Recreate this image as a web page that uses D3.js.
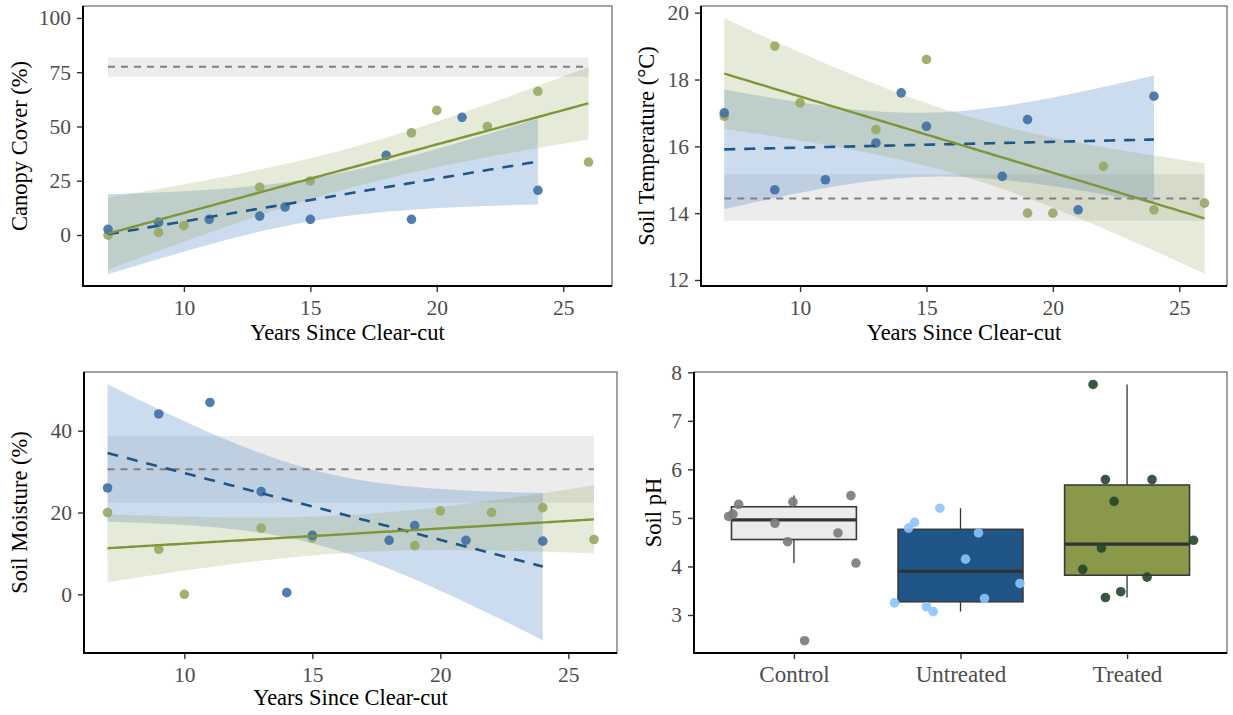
<!DOCTYPE html>
<html>
<head>
<meta charset="utf-8">
<script src="https://cdn.jsdelivr.net/npm/d3@7"></script>
<style>
  html, body { margin: 0; padding: 0; background: #ffffff; }
  svg { display: block; }
  text { font-family: "Liberation Serif", "DejaVu Serif", serif; }
</style>
</head>
<body>
<svg id="chart" width="1233" height="715"></svg>
<script>
// ---------------- DATA ----------------
const xTitle = "Years Since Clear-cut";
const xTickValues = [10, 15, 20, 25];

const untreatedYears = [7, 9, 11, 13, 14, 15, 18, 19, 21, 24];
const treatedYears   = [7, 9, 10, 13, 15, 19, 20, 22, 24, 26];

const canopyUntreated = [2.6, 5.8, 7.2, 8.7, 12.9, 7.2, 36.7, 7.2, 54.2, 20.6];
const canopyTreated   = [-0.1, 1.2, 4.3, 22.0, 24.9, 47.1, 57.4, 50.0, 66.2, 33.6];

const tempUntreated = [17.0, 14.7, 15.0, 16.1, 17.6, 16.6, 15.1, 16.8, 14.1, 17.5];
const tempTreated   = [16.9, 19.0, 17.3, 16.5, 18.6, 14.0, 14.0, 15.4, 14.1, 14.3];

const moistUntreated = [26.0, 44.1, 46.9, 25.1, 0.4, 14.4, 13.2, 16.8, 13.2, 13.0];
const moistTreated   = [20.0, 11.0, 0.0, 16.2, 13.8, 11.9, 20.4, 20.0, 21.2, 13.4];

// control reference (mean and 95% CI) for canopy, temperature, moisture
const controlMean = [77.5, 14.44, 30.56];
const controlLow  = [72.9, 13.77, 22.4];
const controlHigh = [81.8, 15.16, 38.7];

const yTitles = ["Canopy Cover (%)", "Soil Temperature (°C)", "Soil Moisture (%)", "Soil pH"];
const canopyTicks = [0, 25, 50, 75, 100];
const tempTicks = [12, 14, 16, 18, 20];
const moistTicks = [0, 20, 40];
const phTicks = [3, 4, 5, 6, 7, 8];

const phGroups = ["Control", "Untreated", "Treated"];
const phControl   = [5.03, 5.08, 5.28, 4.89, 4.51, 5.33, 2.47, 4.69, 5.46, 4.07];
const phUntreated = [3.25, 4.79, 4.91, 3.17, 3.07, 5.20, 4.15, 4.69, 3.34, 3.65];
const phTreated   = [7.75, 5.79, 5.79, 5.34, 4.54, 4.38, 3.94, 3.78, 3.48, 3.36];
// horizontal jitter of the points, in category-step units
const phControlJitter   = [-0.392, -0.366, -0.332, -0.114, -0.038, -0.006, 0.064, 0.264, 0.342, 0.372];
const phUntreatedJitter = [-0.396, -0.312, -0.276, -0.204, -0.164, -0.124, 0.030, 0.108, 0.144, 0.357];
const phTreatedJitter   = [-0.204, -0.130, 0.150, -0.078, 0.399, -0.154, -0.266, 0.120, -0.038, -0.130];

// ---------------- STYLE ----------------
const COL = {
  untrPoint: "#3F6FA6", trPoint: "#97A864",
  untrLine: "#1F5587", trLine: "#7F9638",
  untrRibbon: "rgb(100,150,205)", trRibbon: "rgb(130,150,60)",
  ctrlRibbon: "#d9d9d9", ctrlLine: "#808080",
  boxFill: ["#EBEBEB", "#1F5587", "#8A984A"],
  boxPts: ["#7a7a7a", "#8CC4FA", "#24452a"]
};
const FONT_TICK = 21.5, FONT_CAT = 23, FONT_TITLE = 22.5, PT_R = 4.8;

const svg = d3.select("#chart");

// t critical values (0.975) by df
const tTable = {1:12.706,2:4.303,3:3.182,4:2.776,5:2.571,6:2.447,7:2.365,8:2.306,9:2.262,10:2.228,11:2.201,12:2.179,13:2.160,14:2.145,15:2.131,16:2.120,17:2.110,18:2.101,19:2.093,20:2.086};

function lmFit(xs, ys) {
  const n = xs.length;
  const mx = d3.mean(xs), my = d3.mean(ys);
  let sxx = 0, sxy = 0;
  for (let i = 0; i < n; i++) { sxx += (xs[i]-mx)**2; sxy += (xs[i]-mx)*(ys[i]-my); }
  const b = sxy / sxx, a = my - b*mx;
  let sse = 0;
  for (let i = 0; i < n; i++) sse += (ys[i] - (a + b*xs[i]))**2;
  const s = Math.sqrt(sse / (n - 2));
  const t = tTable[n - 2] || 1.96;
  const x0 = d3.min(xs), x1 = d3.max(xs);
  return d3.range(80).map(i => {
    const x = x0 + (x1 - x0) * i / 79;
    const yh = a + b*x;
    const se = s * Math.sqrt(1/n + (x-mx)**2 / sxx);
    return {x, y: yh, lo: yh - t*se, hi: yh + t*se};
  });
}

function styleAxis(g, fs) {
  g.select(".domain").remove();
  g.selectAll(".tick line").attr("stroke", "#333").attr("stroke-width", 1.4);
  g.selectAll(".tick text").attr("fill", "#4d4d4d").attr("font-size", fs)
    .attr("font-family", "Liberation Serif, serif");
}

function frame(p) {
  const g = svg.append("g");
  g.append("rect").attr("x", p.x0).attr("y", p.y0).attr("width", p.x1 - p.x0).attr("height", p.y1 - p.y0)
    .attr("fill", "none").attr("stroke", "#444").attr("stroke-width", 1);
  return g;
}

function axesAndTitles(p, x, y, yTicks, yTitle, isBand) {
  const gy = svg.append("g").attr("transform", `translate(${p.x0},0)`)
    .call(d3.axisLeft(y).tickValues(yTicks).tickFormat(d3.format("d")).tickSize(6).tickPadding(6));
  styleAxis(gy, FONT_TICK);
  const ax = isBand ? d3.axisBottom(x).tickPadding(6.5)
                    : d3.axisBottom(x).tickValues(xTickValues).tickFormat(d3.format("d")).tickPadding(7.7);
  const gx = svg.append("g").attr("transform", `translate(0,${p.y1})`)
    .call(ax.tickSize(6));
  styleAxis(gx, isBand ? FONT_CAT : FONT_TICK);
  svg.append("line").attr("x1", p.x0).attr("x2", p.x0).attr("y1", p.y0).attr("y2", p.y1 + 1)
    .attr("stroke", "#000").attr("stroke-width", 2);
  svg.append("line").attr("x1", p.x0 - 1).attr("x2", p.x1).attr("y1", p.y1).attr("y2", p.y1)
    .attr("stroke", "#000").attr("stroke-width", 2);
  svg.append("text").attr("transform", `translate(${p.ytx},${(p.y0 + p.y1) / 2}) rotate(-90)`)
    .attr("text-anchor", "middle").attr("font-size", FONT_TITLE).attr("fill", "#000").text(yTitle);
  if (p.xtitleY) {
    svg.append("text").attr("x", (p.x0 + p.x1) / 2).attr("y", p.xtitleY)
      .attr("text-anchor", "middle").attr("font-size", FONT_TITLE).attr("fill", "#000").text(xTitle);
  }
}

function scatterPanel(p, untr, tr, ci, yTicks, yTitle) {
  const x = d3.scaleLinear().domain(p.xd).range([p.x0, p.x1]);
  const y = d3.scaleLinear().domain(p.yd).range([p.y1, p.y0]);
  const g = frame(p);
  const allYears = untreatedYears.concat(treatedYears);
  const cx0 = d3.min(allYears), cx1 = d3.max(allYears);
  g.append("rect").attr("x", x(cx0)).attr("width", x(cx1) - x(cx0))
    .attr("y", y(controlHigh[ci])).attr("height", y(controlLow[ci]) - y(controlHigh[ci]))
    .attr("fill", COL.ctrlRibbon).attr("fill-opacity", 0.5);
  const fU = lmFit(untreatedYears, untr);
  const fT = lmFit(treatedYears, tr);
  const area = d3.area().x(d => x(d.x)).y0(d => y(d.lo)).y1(d => y(d.hi));
  const line = d3.line().x(d => x(d.x)).y(d => y(d.y));
  g.append("path").attr("d", area(fU)).attr("fill", COL.untrRibbon).attr("fill-opacity", 0.33);
  g.append("path").attr("d", area(fT)).attr("fill", COL.trRibbon).attr("fill-opacity", 0.2);
  g.append("line").attr("x1", x(cx0)).attr("x2", x(cx1)).attr("y1", y(controlMean[ci])).attr("y2", y(controlMean[ci]))
    .attr("stroke", COL.ctrlLine).attr("stroke-width", 2).attr("stroke-dasharray", "7,6");
  g.selectAll(".pt").data(treatedYears.map((v, i) => [v, tr[i]])).enter().append("circle")
    .attr("cx", d => x(d[0])).attr("cy", d => y(d[1])).attr("r", PT_R)
    .attr("fill", COL.trPoint).attr("fill-opacity", 0.9);
  g.selectAll(".pu").data(untreatedYears.map((v, i) => [v, untr[i]])).enter().append("circle")
    .attr("cx", d => x(d[0])).attr("cy", d => y(d[1])).attr("r", PT_R)
    .attr("fill", COL.untrPoint).attr("fill-opacity", 0.9);
  g.append("path").attr("d", line(fU)).attr("fill", "none").attr("stroke", COL.untrLine)
    .attr("stroke-width", 2.6).attr("stroke-dasharray", "11,9");
  g.append("path").attr("d", line(fT)).attr("fill", "none").attr("stroke", COL.trLine)
    .attr("stroke-width", 2.4);
  axesAndTitles(p, x, y, yTicks, yTitle, false);
}

scatterPanel({x0: 83, x1: 612, y0: 6, y1: 286, xd: [6.01, 26.93], yd: [-23.5, 105.5], ytx: 27, xtitleY: 340},
  canopyUntreated, canopyTreated, 0, canopyTicks, yTitles[0]);
scatterPanel({x0: 701, x1: 1227, y0: 6, y1: 286, xd: [6.08, 26.89], yd: [11.82, 20.2], ytx: 654, xtitleY: 340},
  tempUntreated, tempTreated, 1, tempTicks, yTitles[1]);
scatterPanel({x0: 84, x1: 617, y0: 372, y1: 653, xd: [6.08, 26.9], yd: [-14.35, 54.35], ytx: 27, xtitleY: 705},
  moistUntreated, moistTreated, 2, moistTicks, yTitles[2]);

// ---------------- BOX PANEL ----------------
(function () {
  const p = {x0: 694, x1: 1227, y0: 372, y1: 653, ytx: 661};
  const x = d3.scalePoint().domain(phGroups).range([p.x0, p.x1]).padding(0.6);
  const y = d3.scaleLinear().domain([2.217, 8.006]).range([p.y1, p.y0]);
  const g = frame(p);
  const step = x.step();
  const bw = 0.75 * step;
  const vals = [phControl, phUntreated, phTreated];
  const jit = [phControlJitter, phUntreatedJitter, phTreatedJitter];
  phGroups.forEach((grp, gi) => {
    const s = vals[gi].slice().sort(d3.ascending);
    const q1 = d3.quantile(s, 0.25), med = d3.quantile(s, 0.5), q3 = d3.quantile(s, 0.75);
    const iqr = q3 - q1;
    const wLo = d3.min(s.filter(v => v >= q1 - 1.5 * iqr));
    const wHi = d3.max(s.filter(v => v <= q3 + 1.5 * iqr));
    const cx = x(grp);
    g.append("line").attr("x1", cx).attr("x2", cx).attr("y1", y(q3)).attr("y2", y(wHi))
      .attr("stroke", "#333").attr("stroke-width", 1.3);
    g.append("line").attr("x1", cx).attr("x2", cx).attr("y1", y(q1)).attr("y2", y(wLo))
      .attr("stroke", "#333").attr("stroke-width", 1.3);
    g.append("rect").attr("x", cx - bw / 2).attr("width", bw).attr("y", y(q3)).attr("height", y(q1) - y(q3))
      .attr("fill", COL.boxFill[gi]).attr("stroke", "#3a3a3a").attr("stroke-width", 1.6);
    g.append("line").attr("x1", cx - bw / 2).attr("x2", cx + bw / 2).attr("y1", y(med)).attr("y2", y(med))
      .attr("stroke", "#333").attr("stroke-width", 3.2);
  });
  phGroups.forEach((grp, gi) => {
    g.selectAll(".bp" + gi).data(vals[gi].map((v, i) => [jit[gi][i], v])).enter().append("circle")
      .attr("cx", d => x(grp) + d[0] * step).attr("cy", d => y(d[1])).attr("r", PT_R)
      .attr("fill", COL.boxPts[gi]).attr("fill-opacity", 0.9);
  });
  axesAndTitles(p, x, y, phTicks, yTitles[3], true);
})();
</script>
</body>
</html>
